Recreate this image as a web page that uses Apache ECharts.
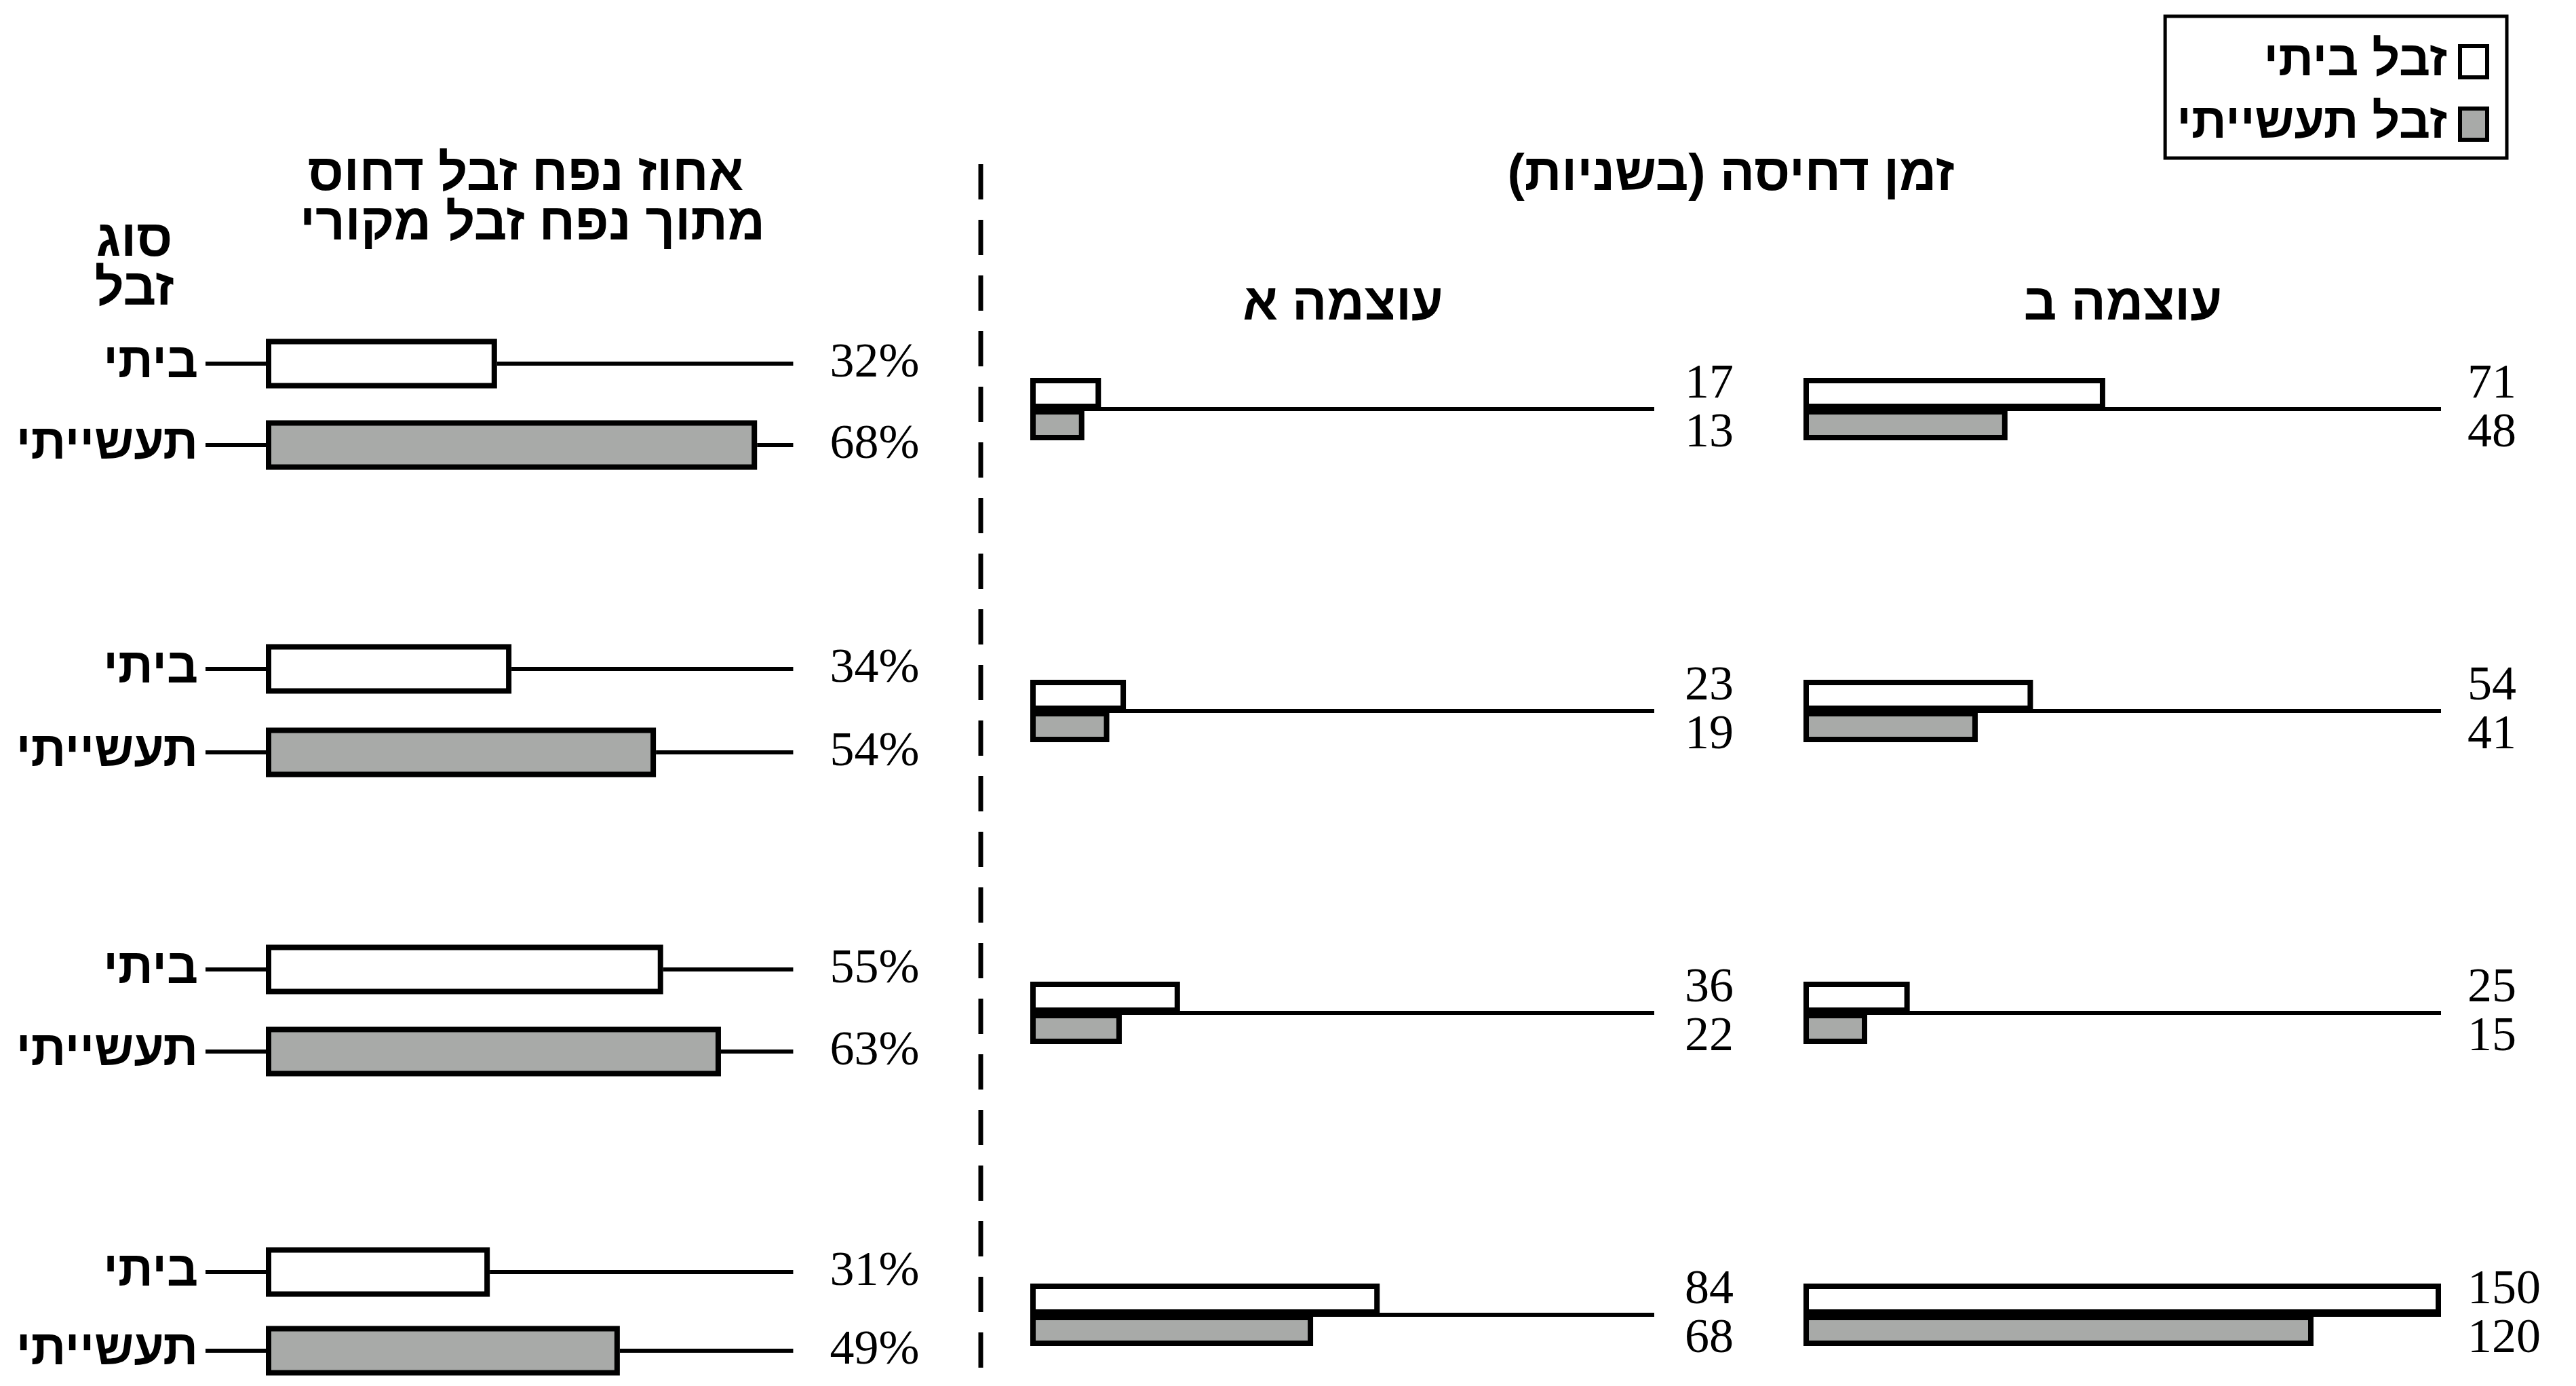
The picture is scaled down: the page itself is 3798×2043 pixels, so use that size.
<!DOCTYPE html>
<html>
<head>
<meta charset="utf-8">
<script src="https://cdn.jsdelivr.net/npm/echarts@6/dist/echarts.min.js"></script>
<style>
html,body{margin:0;padding:0;background:#ffffff;}
#chart{width:3798px;height:2043px;}
</style>
</head>
<body>
<div id="chart"></div>
<script>
// ---- data ----
const WASTE_TYPES = ['ביתי', 'תעשייתי'];
const SERIES_NAMES = ['זבל ביתי', 'זבל תעשייתי'];
const GROUPS = ['1', '2', '3', '4'];
const PCT_HOME = [32, 34, 55, 31];
const PCT_IND = [68, 54, 63, 49];
const TIME_A_HOME = [17, 23, 36, 84];
const TIME_A_IND = [13, 19, 22, 68];
const TIME_B_HOME = [71, 54, 25, 150];
const TIME_B_IND = [48, 41, 15, 120];
const PCT_LINE_END = 73;
const TIME_MAX = 150;
const TITLES = {
  pct1: 'אחוז נפח זבל דחוס',
  pct2: 'מתוך נפח זבל מקורי',
  type1: 'סוג',
  type2: 'זבל',
  time: 'זמן דחיסה (בשניות)\u200F',
  forceA: 'עוצמה א',
  forceB: 'עוצמה ב'
};

// ---- layout / style ----
const HEB = "'Liberation Sans', 'DejaVu Sans', sans-serif";
const SERIF = "'Liberation Serif', 'DejaVu Serif', serif";
const GRAY = '#a8aaa8';
const LEFT_ROWS = [[536, 656], [986, 1109], [1429, 1550], [1875, 1991]];
const TIME_TOP = 380.5, TIME_H = 1780;

const chart = echarts.init(document.getElementById('chart'), null, {renderer: 'canvas'});

const grid = [], xAxis = [], yAxis = [], series = [];
const barStyle = (i) => ({color: i === 0 ? '#ffffff' : GRAY, borderColor: '#000', borderWidth: 8});
const lineStyle = {color: '#000', width: 6, type: 'solid'};

LEFT_ROWS.forEach((r, g) => {
  const d = r[1] - r[0];
  grid.push({left: 392, width: 1065, top: r[0] - d / 2, height: 2 * d, outerBoundsMode: 'none', containLabel: false});
  xAxis.push({gridIndex: g, type: 'value', min: 0, max: 100, show: false});
  yAxis.push({
    gridIndex: g, type: 'category', data: WASTE_TYPES, inverse: true,
    axisLine: {show: false},
    axisTick: {show: true, alignWithLabel: true, length: 89, lineStyle: {color: '#000', width: 6}},
    axisLabel: {margin: 100, fontSize: 72, fontWeight: 'bold', color: '#000', fontFamily: HEB},
    splitLine: {show: false}
  });
  [PCT_HOME, PCT_IND].forEach((arr, i) => {
    const data = i === 0 ? [arr[g], '-'] : ['-', arr[g]];
    series.push({
      name: SERIES_NAMES[i], type: 'bar', xAxisIndex: g, yAxisIndex: g, stack: 's' + g,
      barWidth: 73, data: data, itemStyle: barStyle(i), silent: true,
      markLine: {
        silent: true, symbol: ['none', 'none'], lineStyle: lineStyle, animation: false,
        label: {show: true, position: 'end', distance: 54, formatter: () => arr[g] + '%',
                fontFamily: SERIF, fontSize: 72, color: '#000'},
        data: [[{coord: [arr[g], WASTE_TYPES[i]]}, {coord: [PCT_LINE_END, WASTE_TYPES[i]]}]]
      }
    });
  });
});

function timePanel(idx, left, width, home, ind, dist) {
  grid.push({left: left, width: width, top: TIME_TOP, height: TIME_H, outerBoundsMode: 'none', containLabel: false});
  xAxis.push({gridIndex: idx, type: 'value', min: 0, max: TIME_MAX, show: false});
  yAxis.push({gridIndex: idx, type: 'category', data: GROUPS, inverse: true, show: false});
  series.push({
    name: SERIES_NAMES[0], type: 'bar', xAxisIndex: idx, yAxisIndex: idx, barWidth: 46, barGap: '0%',
    data: home, itemStyle: barStyle(0), silent: true
  });
  series.push({
    name: SERIES_NAMES[1], type: 'bar', xAxisIndex: idx, yAxisIndex: idx, barWidth: 46, barGap: '0%',
    data: ind, itemStyle: barStyle(1), silent: true
  });
  // leader lines + value labels at the category centre (boundary of the two bars)
  series.push({
    type: 'line', xAxisIndex: idx, yAxisIndex: idx, silent: true, showSymbol: false,
    data: GROUPS.map(() => '-'), z: 5,
    markLine: {
      silent: true, symbol: ['none', 'none'], lineStyle: lineStyle, animation: false,
      label: {show: true, position: 'end', distance: dist, lineHeight: 72,
              formatter: (p) => home[p.dataIndex] + '\n' + ind[p.dataIndex],
              fontFamily: SERIF, fontSize: 72, color: '#000', align: 'left'},
      data: GROUPS.map(c => [{coord: [0, c]}, {coord: [TIME_MAX, c]}])
    }
  });
}
timePanel(4, 1519, 920, TIME_A_HOME, TIME_A_IND, 45);
timePanel(5, 2659, 940, TIME_B_HOME, TIME_B_IND, 39);

const txt = (text, x, y, size) => ({
  type: 'text', x: x, y: y, silent: true,
  style: {text: text, fontSize: size, fontWeight: 'bold', fontFamily: HEB, fill: '#000',
          textAlign: 'center', textVerticalAlign: 'middle'}
});

const option = {
  backgroundColor: '#ffffff',
  animation: false,
  legend: {
    data: SERIES_NAMES, orient: 'vertical', align: 'right', right: 102, top: 24,
    borderColor: '#000', borderWidth: 5, padding: [31, 26, 14, 17],
    icon: 'rect', itemWidth: 40, itemHeight: 46, itemGap: 20, selectedMode: false,
    itemStyle: {borderColor: '#000', borderWidth: 6},
    textStyle: {fontSize: 72, lineHeight: 46, fontWeight: 'bold', fontFamily: HEB, color: '#000', padding: [0, 14, 0, 0]}
  },
  grid: grid, xAxis: xAxis, yAxis: yAxis, series: series,
  graphic: [
    {type: 'line', silent: true, shape: {x1: 1446, y1: 242, x2: 1446, y2: 2043},
     style: {stroke: '#000', lineWidth: 7, lineDash: [52, 30]}},
    txt(TITLES.pct1, 775, 259, 76),
    txt(TITLES.pct2, 785, 332, 76),
    txt(TITLES.type1, 198, 356, 76),
    txt(TITLES.type2, 198, 428, 76),
    txt(TITLES.time, 2552, 259, 76),
    txt(TITLES.forceA, 1980, 450, 76),
    txt(TITLES.forceB, 3130, 450, 76)
  ]
};
chart.setOption(option);
</script>
</body>
</html>
